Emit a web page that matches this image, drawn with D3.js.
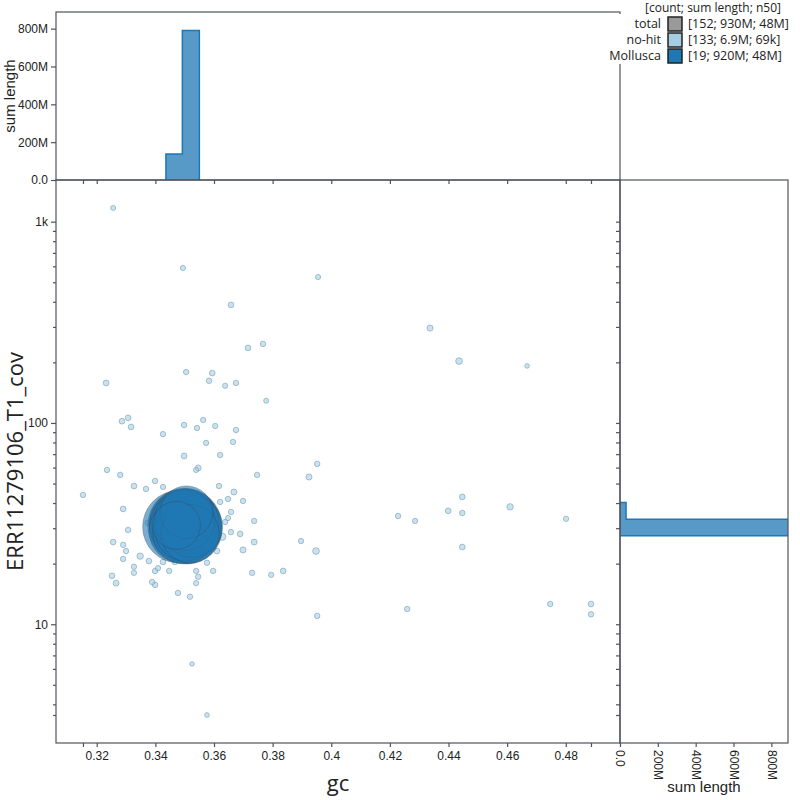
<!DOCTYPE html>
<html>
<head>
<meta charset="utf-8">
<script src="https://cdn.jsdelivr.net/npm/d3@7"></script>
<style>
  body { margin: 0; background: #fff; }
  svg { display: block; }
</style>
</head>
<body>
<svg id="chart" width="800" height="800"></svg>
<script>
// blob plot: gc vs coverage, sized by contig length, with sum-length histograms on the margins

// ---- data ----
// Mollusca contigs: gc, coverage, length
const molluscaGc  = [0.3500, 0.3480, 0.3505, 0.3498, 0.3510, 0.3502, 0.3495, 0.3515, 0.3486, 0.3508,
                     0.3520, 0.3497, 0.3512, 0.3503, 0.3525, 0.3499, 0.3518, 0.3506, 0.3472];
const molluscaCov = [31.0, 30.5, 30.0, 31.5, 29.5, 32.0, 30.8, 31.2, 29.0, 32.5,
                     30.2, 28.5, 31.8, 29.2, 30.6, 32.8, 28.2, 36.0, 31.0];
const molluscaLen = [66e6, 63e6, 60e6, 58e6, 56e6, 55e6, 54e6, 48e6, 47e6, 47e6,
                     46e6, 46e6, 45e6, 44e6, 44e6, 43e6, 40e6, 32e6, 26e6];

// no-hit contigs: gc, coverage, length (kb)
const nohitGc = [
  0.3256, 0.3494, 0.3955, 0.3658, 0.4337, 0.3716, 0.3767, 0.4436, 0.4668, 0.3232,
  0.3505, 0.3594, 0.3583, 0.3675, 0.3638, 0.3778, 0.3563, 0.3286, 0.3307, 0.3317,
  0.3426, 0.3498, 0.3542, 0.3604, 0.3675, 0.3665, 0.3621, 0.3573, 0.3498, 0.3235,
  0.3153, 0.3952, 0.3924, 0.3256, 0.3252, 0.3266, 0.3795, 0.3836, 0.3897, 0.3948,
  0.3952, 0.3525, 0.3576, 0.4228, 0.4286, 0.4259, 0.4399, 0.4447, 0.4447, 0.4447,
  0.4610, 0.4747, 0.4801, 0.4886, 0.4886, 0.3546,
  0.3280, 0.3327, 0.3368, 0.3399, 0.3426, 0.3290, 0.3307, 0.3290, 0.3300, 0.3290,
  0.3348, 0.3327, 0.3327, 0.3378, 0.3399, 0.3409, 0.3426, 0.3447, 0.3467, 0.3389,
  0.3399, 0.3477, 0.3518, 0.3539, 0.3546, 0.3539, 0.3576, 0.3597, 0.3610, 0.3628,
  0.3658, 0.3689, 0.3699, 0.3737, 0.3730, 0.3737, 0.3658, 0.3638, 0.3648, 0.3621,
  0.3648, 0.3668, 0.3699, 0.3617, 0.3747, 0.3539, 0.3375,
  0.3455, 0.3462, 0.3471, 0.3478, 0.3483, 0.3489, 0.3493, 0.3497, 0.3501, 0.3504,
  0.3508, 0.3511, 0.3514, 0.3518, 0.3521, 0.3524, 0.3527, 0.3531, 0.3535, 0.3538,
  0.3542, 0.3546, 0.3549, 0.3466, 0.3474, 0.3486, 0.3529, 0.3516, 0.3492
];
const nohitCov = [
  1170, 589, 531, 386, 296, 236, 247, 203, 192, 158,
  179, 177, 162, 158, 153, 129, 103.5, 102, 106, 95.5,
  88, 97.7, 94.4, 96.6, 92.3, 80.5, 69.3, 79.6, 68.6, 58.4,
  43.9, 62.6, 53.9, 25.6, 17.4, 16.0, 17.6, 18.4, 25.9, 23.1,
  11.0, 6.35, 3.54, 34.5, 32.6, 11.9, 36.6, 42.9, 35.7, 24.2,
  38.3, 12.6, 33.4, 12.6, 11.2, 59.8,
  55.2, 48.6, 47.0, 51.5, 48.1, 37.4, 29.4, 24.8, 23.1, 21.1,
  21.8, 19.3, 18.0, 20.6, 18.4, 19.0, 20.4, 18.4, 20.4, 16.2,
  15.7, 14.3, 13.7, 16.0, 17.2, 18.4, 20.2, 18.4, 23.1, 27.2,
  28.7, 28.1, 23.4, 25.6, 18.0, 32.6, 36.1, 32.2, 33.7, 40.5,
  41.9, 45.4, 41.0, 48.6, 55.2, 58.4, 31.9,
  26.5, 34.2, 29.8, 37.5, 24.6, 32.1, 27.9, 35.5, 30.4, 25.3,
  38.2, 28.8, 33.6, 26.1, 31.5, 36.8, 29.1, 34.9, 27.2, 32.7,
  30.0, 25.8, 35.9, 31.2, 28.4, 35.0, 24.9, 39.5, 30.9
];
const nohitLenKb = [
  15, 20, 20, 40, 60, 40, 30, 100, 6, 50,
  30, 40, 30, 30, 20, 15, 25, 40, 40, 40,
  30, 30, 25, 25, 30, 25, 30, 25, 45, 30,
  30, 30, 60, 40, 40, 50, 25, 40, 25, 100,
  30, 5, 8, 30, 25, 30, 40, 40, 30, 40,
  80, 30, 25, 40, 30, 50,
  30, 40, 30, 30, 25, 40, 30, 30, 25, 30,
  80, 25, 25, 40, 30, 25, 40, 30, 40, 30,
  40, 30, 30, 20, 30, 25, 30, 30, 40, 150,
  30, 40, 60, 50, 30, 25, 30, 25, 20, 30,
  25, 50, 25, 30, 30, 20, 40,
  120, 160, 90, 140, 70, 180, 100, 90, 200, 80,
  90, 150, 110, 70, 130, 90, 100, 160, 70, 110,
  190, 80, 100, 70, 110, 90, 80, 90, 210
];

// sum-length histograms (bin edges and summed length per bin)
const gcBinEdges  = [0.3436, 0.3492, 0.3550];
const gcBinSums   = [137e6, 790e6];
const covBinEdges = [27.5, 33.2, 40.2];
const covBinSums  = [895e6, 32e6];

// axis ticks
const gcTicks        = [0.32, 0.34, 0.36, 0.38, 0.40, 0.42, 0.44, 0.46, 0.48];
const covMajorTicks  = [10, 100, 1000];
const covMinorTicks  = [4, 5, 6, 7, 8, 9, 20, 30, 40, 50, 60, 70, 80, 90,
                        200, 300, 400, 500, 600, 700, 800, 900];
const sumTicks       = [0, 200e6, 400e6, 600e6, 800e6];

// legend
const legendNames  = ["total", "no-hit", "Mollusca"];
const legendCounts = [152, 133, 19];
const legendSums   = ["930M", "6.9M", "920M"];
const legendN50    = ["48M", "69k", "48M"];
const legendColors = ["#999999", "#a6cee3", "#1f78b4"];

// ---- layout ----
const svg = d3.select("#chart");
const plot = { left: 56, right: 620, top: 180, bottom: 743 };
const histTop = 12;
const sideRight = 788;
const axisColor = "#50535f";
const tickFont = "'Liberation Sans', Arial, sans-serif";
const titleFont = "'Open Sans', 'Noto Sans', sans-serif";

// scales
const x = d3.scaleLinear().domain([0.3061, 0.4985]).range([plot.left, plot.right]);
const y = d3.scaleLog().domain([2.57, 1611]).range([plot.bottom, plot.top]);
const r = d3.scaleSqrt().domain([0, 66e6]).range([2, 37]);
const yTop = d3.scaleLinear().domain([0, 888e6]).range([plot.top, histTop]);
const xSide = d3.scaleLinear().domain([0, 888e6]).range([plot.right, sideRight]);

const fmtSum = d => d === 0 ? "0.0" : d3.format("~s")(d);

// rows for points
const nohit = nohitGc.map((g, i) => ({ gc: g, cov: nohitCov[i], len: nohitLenKb[i] * 1000 }));
const mollusca = molluscaGc.map((g, i) => ({ gc: g, cov: molluscaCov[i], len: molluscaLen[i] }));
const gcExtent = d3.extent(nohitGc.concat(molluscaGc));
const covMin = d3.min(nohitCov.concat(molluscaCov));

// clip for histogram overflow
const defs = svg.append("defs");
defs.append("clipPath").attr("id", "clip-side")
  .append("rect").attr("x", plot.right).attr("y", plot.top)
  .attr("width", sideRight - plot.right).attr("height", plot.bottom - plot.top);
defs.append("clipPath").attr("id", "clip-top")
  .append("rect").attr("x", plot.left).attr("y", histTop)
  .attr("width", plot.right - plot.left).attr("height", plot.top - histTop);

// ---- histograms ----
function stepPoints(edges, values) {
  const pts = [[edges[0], 0]];
  values.forEach((v, i) => {
    pts.push([edges[i], v]);
    pts.push([edges[i + 1], v]);
  });
  pts.push([edges[edges.length - 1], 0]);
  return pts;
}

svg.append("path")
  .attr("clip-path", "url(#clip-top)")
  .attr("d", d3.line().x(d => x(d[0])).y(d => yTop(d[1]))(stepPoints(gcBinEdges, gcBinSums)))
  .attr("fill", "#1f78b4").attr("fill-opacity", 0.75)
  .attr("stroke", "#1f78b4").attr("stroke-width", 1.5);

svg.append("path")
  .attr("clip-path", "url(#clip-side)")
  .attr("d", d3.line().x(d => xSide(d[1])).y(d => y(d[0]))(stepPoints(covBinEdges, covBinSums)))
  .attr("fill", "#1f78b4").attr("fill-opacity", 0.75)
  .attr("stroke", "#1f78b4").attr("stroke-width", 1.5);

// ---- scatter ----
svg.append("g")
  .selectAll("circle")
  .data(nohit.slice().sort((a, b) => b.len - a.len))
  .join("circle")
  .attr("cx", d => x(d.gc))
  .attr("cy", d => y(d.cov))
  .attr("r", d => r(d.len))
  .attr("fill", "#a6cee3").attr("fill-opacity", 0.6)
  .attr("stroke", "#6f98b3").attr("stroke-opacity", 0.7).attr("stroke-width", 0.8);

svg.append("g")
  .selectAll("circle")
  .data(mollusca.slice().sort((a, b) => b.len - a.len))
  .join("circle")
  .attr("cx", d => x(d.gc))
  .attr("cy", d => y(d.cov))
  .attr("r", d => r(d.len))
  .attr("fill", "#1f78b4").attr("fill-opacity", 0.6)
  .attr("stroke", "#3a3a3a").attr("stroke-opacity", 0.3).attr("stroke-width", 1);

// ---- frames ----
const frames = svg.append("g").attr("fill", "none").attr("stroke", axisColor).attr("stroke-width", 1.2);
frames.append("rect").attr("x", plot.left).attr("y", histTop)
  .attr("width", plot.right - plot.left).attr("height", plot.top - histTop);
frames.append("rect").attr("x", plot.left).attr("y", plot.top)
  .attr("width", plot.right - plot.left).attr("height", plot.bottom - plot.top);
frames.append("rect").attr("x", plot.right).attr("y", plot.top)
  .attr("width", sideRight - plot.right).attr("height", plot.bottom - plot.top);

// ---- axes ----
function styleAxis(g) {
  g.select(".domain").remove();
  g.attr("font-family", tickFont).attr("font-size", 12).attr("color", axisColor);
  g.selectAll("line").attr("stroke-width", 1.2);
  g.selectAll("text").attr("fill", "#222");
}

// main x axis
svg.append("g")
  .attr("transform", `translate(0,${plot.bottom})`)
  .call(d3.axisBottom(x).tickValues(gcTicks.concat(gcExtent)).tickSize(4).tickPadding(4)
    .tickFormat(d => gcTicks.includes(d) ? d3.format("~g")(d) : ""))
  .call(styleAxis);

// top histogram: x ticks under its baseline
svg.append("g")
  .attr("transform", `translate(0,${plot.top})`)
  .call(d3.axisBottom(x).tickValues(gcTicks.concat(gcExtent)).tickSize(4).tickFormat(""))
  .call(styleAxis);

// main y axis
svg.append("g")
  .attr("transform", `translate(${plot.left},0)`)
  .call(d3.axisLeft(y).tickValues(covMajorTicks).tickSize(5).tickPadding(3)
    .tickFormat(d3.format("~s")))
  .call(styleAxis);
svg.append("g")
  .attr("transform", `translate(${plot.left},0)`)
  .call(d3.axisLeft(y).tickValues(covMinorTicks.concat([covMin])).tickSize(3).tickFormat(""))
  .call(styleAxis);

// side histogram: y ticks on its left edge
svg.append("g")
  .attr("transform", `translate(${plot.right},0)`)
  .call(d3.axisLeft(y).tickValues(covMajorTicks.concat(covMinorTicks, [covMin])).tickSize(4).tickFormat(""))
  .call(styleAxis);

// top histogram y axis
svg.append("g")
  .attr("transform", `translate(${plot.left},0)`)
  .call(d3.axisLeft(yTop).tickValues(sumTicks).tickSize(5).tickPadding(3).tickFormat(fmtSum))
  .call(styleAxis);

// side histogram x axis, rotated labels
svg.append("g")
  .attr("transform", `translate(0,${plot.bottom})`)
  .call(d3.axisBottom(xSide).tickValues(sumTicks).tickSize(4).tickFormat(fmtSum))
  .call(styleAxis)
  .selectAll("text")
  .attr("y", 0).attr("x", 7).attr("dy", "0.35em")
  .attr("transform", "rotate(90)")
  .attr("text-anchor", "start");

// ---- axis titles ----
svg.append("text")
  .attr("x", (plot.left + plot.right) / 2).attr("y", 791)
  .attr("text-anchor", "middle")
  .attr("font-family", titleFont).attr("font-size", 22).attr("fill", "#222")
  .text("gc");

svg.append("text")
  .attr("transform", `translate(23,${(plot.top + plot.bottom) / 2}) rotate(-90)`)
  .attr("text-anchor", "middle")
  .attr("font-family", titleFont).attr("font-size", 22).attr("fill", "#222")
  .text("ERR11279106_T1_cov");

svg.append("text")
  .attr("transform", `translate(15,${(histTop + plot.top) / 2}) rotate(-90)`)
  .attr("text-anchor", "middle")
  .attr("font-family", tickFont).attr("font-size", 15).attr("fill", "#222")
  .text("sum length");

svg.append("text")
  .attr("x", (plot.right + sideRight) / 2).attr("y", 792)
  .attr("text-anchor", "middle")
  .attr("font-family", tickFont).attr("font-size", 15).attr("fill", "#222")
  .text("sum length");

// ---- legend ----
const legend = svg.append("g").attr("font-family", titleFont).attr("font-size", 12.5).attr("fill", "#222");
legend.append("rect")
  .attr("x", plot.right - 1).attr("y", histTop + 2)
  .attr("width", 800 - plot.right).attr("height", 50)
  .attr("fill", "#fff");
legend.append("text")
  .attr("x", 713).attr("y", 12)
  .attr("font-size", 12)
  .attr("text-anchor", "middle")
  .text("[count; sum length; n50]");

const rows = legend.selectAll("g.row")
  .data(legendNames)
  .join("g")
  .attr("class", "row")
  .attr("transform", (d, i) => `translate(0,${24 + i * 16})`);
rows.append("text")
  .attr("x", 661).attr("dy", "0.35em")
  .attr("text-anchor", "end")
  .text(d => d);
rows.append("rect")
  .attr("x", 668).attr("y", -7).attr("width", 14).attr("height", 14)
  .attr("fill", (d, i) => legendColors[i])
  .attr("stroke", "#222").attr("stroke-width", 1.5);
rows.append("text")
  .attr("x", 688).attr("dy", "0.35em")
  .text((d, i) => `[${legendCounts[i]}; ${legendSums[i]}; ${legendN50[i]}]`);
</script>
</body>
</html>
